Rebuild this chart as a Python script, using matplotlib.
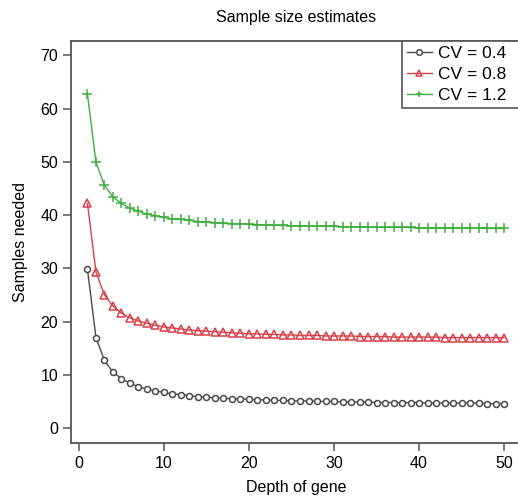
import matplotlib
matplotlib.use("Agg")
import matplotlib.pyplot as plt

plt.rcParams['font.family'] = ['Liberation Sans', 'DejaVu Sans']

depth = list(range(1, 51))
cv04 = [29.8, 17.0, 12.7, 10.5, 9.3, 8.4, 7.8, 7.3, 7.0, 6.7, 6.4, 6.3, 6.1, 5.9, 5.8, 5.7, 5.6, 5.5, 5.5, 5.4,
        5.3, 5.3, 5.2, 5.2, 5.1, 5.1, 5.1, 5.0, 5.0, 5.0, 4.9, 4.9, 4.9, 4.9, 4.8, 4.8, 4.8, 4.8, 4.8, 4.8,
        4.7, 4.7, 4.7, 4.7, 4.7, 4.7, 4.7, 4.6, 4.6, 4.6]
cv08 = [42.2, 29.3, 25.0, 22.9, 21.6, 20.7, 20.1, 19.7, 19.3, 19.0, 18.8, 18.6, 18.4, 18.3, 18.2, 18.1, 18.0, 17.9, 17.8, 17.7,
        17.7, 17.6, 17.6, 17.5, 17.5, 17.4, 17.4, 17.4, 17.3, 17.3, 17.3, 17.3, 17.2, 17.2, 17.2, 17.2, 17.1, 17.1, 17.1, 17.1,
        17.1, 17.1, 17.0, 17.0, 17.0, 17.0, 17.0, 17.0, 17.0, 17.0]
cv12 = [62.7, 49.9, 45.6, 43.4, 42.2, 41.3, 40.7, 40.2, 39.9, 39.6, 39.3, 39.2, 39.0, 38.8, 38.7, 38.6, 38.5, 38.4, 38.4, 38.3,
        38.2, 38.2, 38.1, 38.1, 38.0, 38.0, 38.0, 37.9, 37.9, 37.9, 37.8, 37.8, 37.8, 37.8, 37.7, 37.7, 37.7, 37.7, 37.7, 37.6,
        37.6, 37.6, 37.6, 37.6, 37.6, 37.6, 37.6, 37.5, 37.5, 37.5]
labels = ["CV = 0.4", "CV = 0.8", "CV = 1.2"]
xticks = [0, 10, 20, 30, 40, 50]
yticks = [0, 10, 20, 30, 40, 50, 60, 70]

W, H = 518, 496
fig = plt.figure(figsize=(W / 100, H / 100), dpi=100)
ax_l, ax_r, ax_t, ax_b = 70.8, 520.7, 40.5, 443
ax = fig.add_axes([ax_l / W, 1 - ax_b / H, (ax_r - ax_l) / W, (ax_b - ax_t) / H])

c_black = '#4a4a4a'
c_red = '#d9404a'
c_green = '#3fae3f'

ax.plot(depth, cv04, color=c_black, lw=1.0, marker='o', ms=4.3, mfc='white', mec=c_black, mew=1.1, label=labels[0])
ax.plot(depth, cv08, color=c_red, lw=1.0, marker='^', ms=5.3, mfc='none', mec=c_red, mew=1.1, label=labels[1])
ax.plot(depth, cv12, color=c_green, lw=1.0, marker='+', ms=7, mec=c_green, mew=1.1, label=labels[2])

ax.set_xlim(-0.96, 51.96)
ax.set_ylim(-2.8, 72.8)
ax.set_xticks(xticks)
ax.set_yticks(yticks)
for s in ax.spines.values():
    s.set_color('#555555')
    s.set_linewidth(1.3)
ax.tick_params(direction='out', length=6, width=1.1, color='#555555', labelsize=11.5, pad=3)
ax.set_xlabel("Depth of gene", fontsize=11.5, labelpad=7)
ax.set_ylabel("Samples needed", fontsize=11.5, labelpad=9)
ax.set_title("Sample size estimates", fontsize=11.5, pad=13)

lx = (402 - ax_l) / (ax_r - ax_l)
leg = ax.legend(loc='upper left', bbox_to_anchor=(lx, 0, 1 - lx, 1), mode='expand', borderaxespad=0,
                fontsize=12.5, fancybox=False, edgecolor='#555555', handlelength=1.4, handletextpad=0.4,
                labelspacing=0.33, borderpad=0.3, framealpha=1)
leg.get_frame().set_linewidth(1.2)
for h in leg.legend_handles:
    h.set_markersize(4)

fig.savefig("out.png", dpi=100)
